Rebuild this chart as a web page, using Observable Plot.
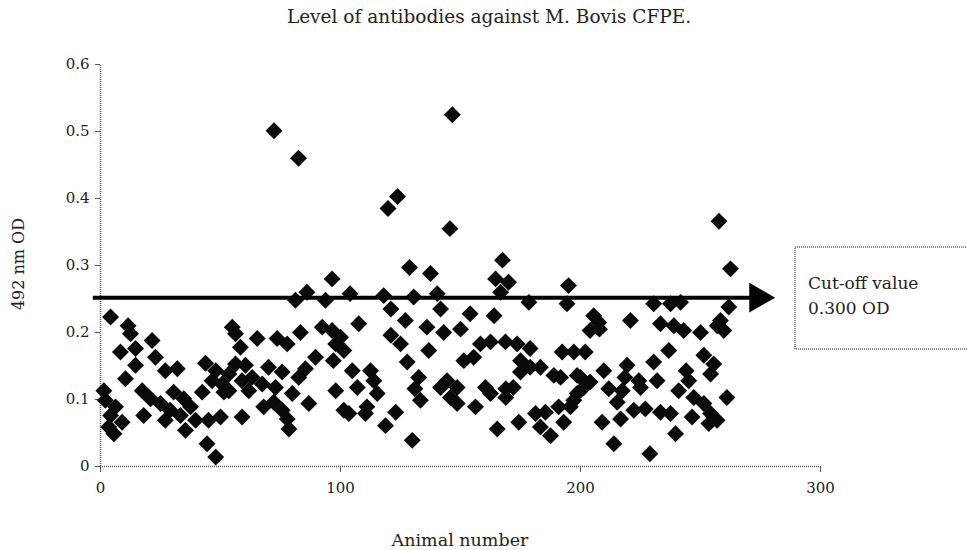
<!DOCTYPE html>
<html><head><meta charset="utf-8">
<script src="https://cdn.jsdelivr.net/npm/d3@7"></script>
<script src="https://cdn.jsdelivr.net/npm/@observablehq/plot@0.6"></script>
<style>body{margin:0;background:#fff;}</style>
</head><body><div id="chart"></div>
<script>
// Animal number (x) and OD at 492 nm (y)
const animal = [
4.2,11.5,12.5,21.5,8.3,14.6,22.9,14.6,27,32,10.4,1.4,2,6.25,4.2,9,5.6,17.4,20.8,25,30.5,34.7,37.5,18,27,33.3,35.4,39.6,45,50,44.4,48,42.4,43.75,48,46.5,50.7,53.5,56.25,60.4,59,63.2,51.4,53.5,61.8,59,68,72.2,75.7,79.9,78.5,70,75.7,67.4,72.9,56.25,54.9,58.3,65.3,73.6,77.8,83.3,92.4,96.5,98,89.6,85.4,82.6,86.8,81.25,93.75,98,101.4,86,96.5,3.4,29,77.8,72.3,82.5,
128.75,137.5,104,118,130.5,140.3,121,141.7,107.6,127,136,121,125,136.8,101.4,97,127.8,104.9,112.5,113.9,132.6,107,131,141.7,115.3,133.3,111,103.5,110.4,123,118.75,129.9,100,123.75,119.8,
178.5,194.4,154,164,150,143,205.5,204,207.9,220.8,233.3,238.9,243,250,230.5,237.5,241.7,257,158.3,162.5,168.75,173.6,179,151.4,155.5,175,175,183.3,188.9,192.4,197.2,202,144.4,148.6,145.8,148.6,160.4,168.9,168.9,156.25,165.3,174.3,181.25,185.4,183.3,187.5,193,190.9,195.8,200,204,198.6,209.7,211.8,217.4,219.4,218.5,224.3,225,231.9,230.5,236.8,244,245.1,240.9,247.2,251.4,255.5,254.2,251.4,254.2,256.9,246.5,222.2,227,233.3,237.5,216.7,209,239.6,213.9,228.9,179,198.6,197.2,201.4,
164.6,170,166.7,195,167.5,146.6,145.6,257.7,262.5,261.8,258.3,259.7,261,253.5,207.6,215.3,191.7,172,162.5
];
const od = [
0.223,0.210,0.198,0.188,0.171,0.176,0.163,0.151,0.143,0.146,0.131,0.113,0.099,0.089,0.076,0.066,0.049,0.113,0.101,0.094,0.111,0.101,0.089,0.076,0.069,0.076,0.054,0.069,0.069,0.074,0.034,0.014,0.111,0.154,0.143,0.128,0.123,0.138,0.153,0.151,0.128,0.133,0.111,0.113,0.113,0.074,0.089,0.096,0.084,0.109,0.056,0.148,0.141,0.123,0.118,0.198,0.208,0.178,0.191,0.191,0.183,0.200,0.208,0.203,0.183,0.163,0.146,0.133,0.094,0.248,0.248,0.113,0.084,0.260,0.280,0.059,0.084,0.071,0.501,0.460,
0.297,0.288,0.258,0.255,0.253,0.258,0.235,0.235,0.213,0.218,0.208,0.196,0.183,0.173,0.173,0.158,0.156,0.143,0.143,0.128,0.133,0.118,0.116,0.118,0.109,0.099,0.089,0.079,0.079,0.081,0.061,0.039,0.193,0.403,0.385,
0.245,0.243,0.228,0.225,0.205,0.200,0.225,0.203,0.205,0.218,0.213,0.210,0.203,0.200,0.243,0.243,0.245,0.210,0.183,0.186,0.186,0.183,0.176,0.158,0.163,0.158,0.141,0.148,0.136,0.171,0.171,0.171,0.128,0.118,0.103,0.094,0.118,0.116,0.103,0.089,0.056,0.066,0.079,0.081,0.059,0.046,0.066,0.089,0.089,0.133,0.126,0.109,0.143,0.116,0.113,0.151,0.133,0.128,0.118,0.128,0.156,0.173,0.143,0.128,0.113,0.103,0.166,0.153,0.138,0.094,0.079,0.069,0.074,0.084,0.086,0.081,0.079,0.071,0.066,0.049,0.034,0.019,0.148,0.136,0.099,0.118,
0.280,0.275,0.260,0.270,0.308,0.525,0.355,0.366,0.295,0.238,0.218,0.203,0.103,0.064,0.215,0.096,0.133,0.118,0.109
];
const xTicks = [0, 100, 200, 300];
const yTicks = [0, 0.1, 0.2, 0.3, 0.4, 0.5, 0.6];
const cutoffLevel = [0.252];
const cutoffStart = -3;
const cutoffEnd = 281;
const titleText = "Level of antibodies against M. Bovis CFPE.";
const xLabel = "Animal number";
const yLabel = "492 nm OD";
const boxLines = ["Cut-off value", "0.300 OD"];

const data = animal.map((a, i) => ({animal: a, od: od[i]}));
const serif = "'DejaVu Serif', 'Liberation Serif', serif";

// square diamond marker (rotated square), half-diagonal = r * 1.1
const diamondMark = {
  draw(context, size) {
    const h = Math.sqrt(size / Math.PI) * 1.1;
    context.moveTo(0, -h); context.lineTo(h, 0); context.lineTo(0, h); context.lineTo(-h, 0); context.closePath();
  }
};

const chart = Plot.plot({
  width: 967, height: 550,
  marginLeft: 100, marginRight: 147, marginTop: 64, marginBottom: 84,
  style: {fontFamily: serif, fontSize: "15px", background: "#fff", color: "#222", overflow: "visible"},
  x: {domain: [0, 300]},
  y: {domain: [0, 0.6]},
  marks: [
    Plot.ruleX([0], {y1: 0, y2: 0.6, stroke: "#555", strokeWidth: 1.5, strokeDasharray: "1,1"}),
    Plot.ruleY([0], {x1: 0, x2: 300, stroke: "#555", strokeWidth: 1.5, strokeDasharray: "1,1"}),
    Plot.axisX({ticks: xTicks, tickSize: 6, tickPadding: 10, tickFormat: d => String(d), label: null, stroke: "#555", fill: "#222", fontSize: 15}),
    Plot.axisY({ticks: yTicks, tickSize: 5, tickPadding: 6, tickFormat: d => d === 0 ? "0" : d3.format(".1f")(d), label: null, stroke: "#555", fill: "#222", fontSize: 15}),
    Plot.dot(data, {x: "animal", y: "od", symbol: diamondMark, r: 7.7, fill: "#0a0a0a", stroke: "none"}),
    Plot.ruleY(cutoffLevel, {x1: cutoffStart, x2: cutoffEnd - 8, stroke: "#000", strokeWidth: 4}),
    Plot.dot(cutoffLevel, {x: cutoffEnd, y: d => d, symbol: "triangle", rotate: 90, r: 11.1, dx: -17, fill: "#000", stroke: "none"})
  ]
});

const svg = d3.select(chart);
const addText = (x, y, txt, size, anchor, transform) => {
  const t = svg.append("text").attr("font-family", serif).attr("font-size", size)
    .attr("fill", "#222").attr("text-anchor", anchor).text(txt);
  if (transform) t.attr("transform", transform); else t.attr("x", x).attr("y", y);
  return t;
};
addText(489, 23, titleText, 18.5, "middle");
addText(460, 546, xLabel, 17.5, "middle");
addText(0, 0, yLabel, 16, "middle", "translate(24,264) rotate(-90)");
svg.append("rect").attr("x", 795).attr("y", 247).attr("width", 200).attr("height", 102)
  .attr("fill", "#fff").attr("stroke", "#666").attr("stroke-width", 1.5).attr("stroke-dasharray", "1,1");
boxLines.forEach((t, i) => addText(808, 289 + i * 25, t, 17, "start"));
document.getElementById("chart").appendChild(chart);
</script>
</body></html>
